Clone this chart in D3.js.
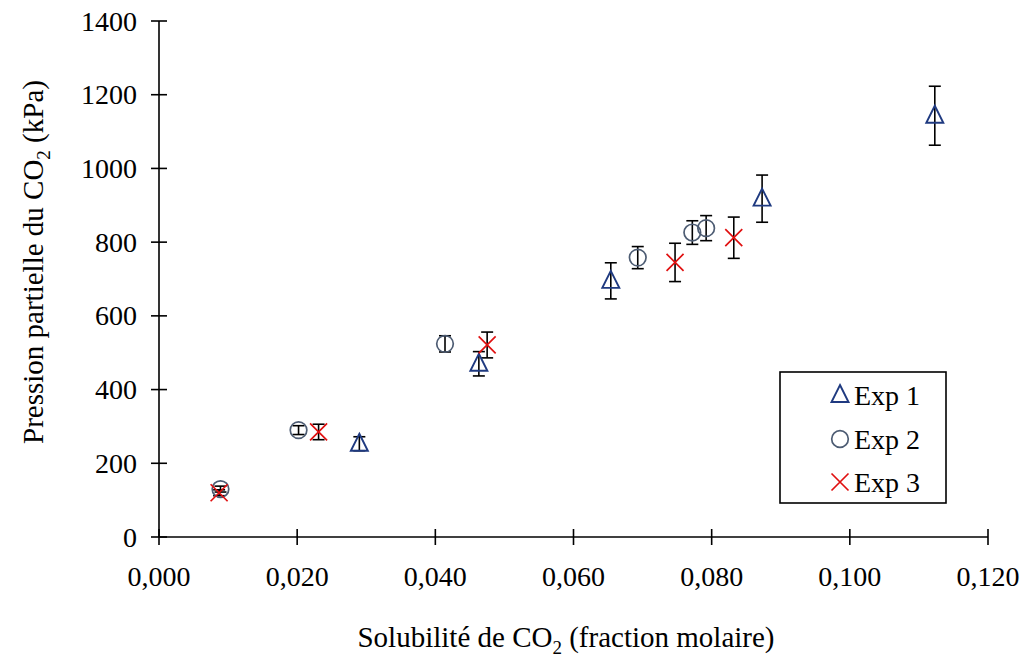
<!DOCTYPE html>
<html><head><meta charset="utf-8">
<script src="https://cdn.jsdelivr.net/npm/d3@7"></script>
<style>body{margin:0;background:#fff}svg{display:block}text{font-family:"Liberation Serif","Times New Roman",serif;fill:#000}</style>
</head><body><svg id="c" width="1024" height="657"></svg>
<script>
const xTicks = [0, 0.02, 0.04, 0.06, 0.08, 0.10, 0.12];
const xTickLabels = ["0,000","0,020","0,040","0,060","0,080","0,100","0,120"];
const yTicks = [0, 200, 400, 600, 800, 1000, 1200, 1400];
const yTickLabels = ["0","200","400","600","800","1000","1200","1400"];

const exp1X = [0.0290, 0.0463, 0.0654, 0.0873, 0.1123];
const exp1Y = [253, 470, 695, 918, 1143];
const exp1Err = [19, 33, 49, 64, 80];

const exp2X = [0.0089, 0.0202, 0.0414, 0.0693, 0.0772, 0.0792];
const exp2Y = [130, 290, 524, 758, 826, 838];
const exp2Err = [8, 12, 22, 30, 32, 34];

const exp3X = [0.0087, 0.0231, 0.0475, 0.0747, 0.0832];
const exp3Y = [120, 285, 521, 745, 812];
const exp3Err = [8, 21, 35, 52, 56];

const seriesNames = ["Exp 1", "Exp 2", "Exp 3"];

const svg = d3.select("#c");
const L = 159, R = 988, T = 21, B = 537;
const x = d3.scaleLinear().domain([0, 0.12]).range([L, R]);
const y = d3.scaleLinear().domain([0, 1400]).range([B, T]);
const FS = 28, TFS = 29;

// x axis
const gx = svg.append("g");
gx.append("line").attr("x1", L).attr("x2", R).attr("y1", B).attr("y2", B).attr("stroke", "#000").attr("stroke-width", 1.6);
gx.selectAll("line.t").data(xTicks).join("line").attr("class", "t")
  .attr("x1", d => x(d)).attr("x2", d => x(d)).attr("y1", B - 8).attr("y2", B + 8)
  .attr("stroke", "#000").attr("stroke-width", 1.6);
gx.selectAll("text").data(xTicks).join("text")
  .attr("x", d => x(d)).attr("y", B + 49).attr("text-anchor", "middle").attr("font-size", FS)
  .text((d, i) => xTickLabels[i]);

// y axis
const gy = svg.append("g");
gy.append("line").attr("x1", L).attr("x2", L).attr("y1", T).attr("y2", B).attr("stroke", "#000").attr("stroke-width", 1.6);
gy.selectAll("line.t").data(yTicks).join("line").attr("class", "t")
  .attr("x1", L - 8).attr("x2", L + 8).attr("y1", d => y(d)).attr("y2", d => y(d))
  .attr("stroke", "#000").attr("stroke-width", 1.6);
gy.selectAll("text").data(yTicks).join("text")
  .attr("x", L - 22).attr("y", d => y(d)).attr("dy", "0.34em").attr("text-anchor", "end").attr("font-size", FS)
  .text((d, i) => yTickLabels[i]);

// axis titles
const xt = svg.append("text").attr("x", 566).attr("y", 647).attr("text-anchor", "middle").attr("font-size", TFS);
xt.append("tspan").text("Solubilité de CO");
xt.append("tspan").attr("font-size", 19).attr("dy", 7).text("2");
xt.append("tspan").attr("dy", -7).text(" (fraction molaire)");

const yt = svg.append("text").attr("transform", "translate(43,262) rotate(-90)").attr("text-anchor", "middle").attr("font-size", TFS);
yt.append("tspan").text("Pression partielle du CO");
yt.append("tspan").attr("font-size", 19).attr("dy", 7).text("2");
yt.append("tspan").attr("dy", -7).text(" (kPa)");

const colors = ["#1f3a80", "#4d5c73", "#e01010"];

function errorBars(xs, ys, es) {
  const g = svg.append("g").attr("stroke", "#000").attr("stroke-width", 1.6);
  xs.forEach((xv, i) => {
    const cx = x(xv), y1 = y(ys[i] + es[i]), y2 = y(ys[i] - es[i]);
    g.append("line").attr("x1", cx).attr("x2", cx).attr("y1", y1).attr("y2", y2);
    g.append("line").attr("x1", cx - 6).attr("x2", cx + 6).attr("y1", y1).attr("y2", y1);
    g.append("line").attr("x1", cx - 6).attr("x2", cx + 6).attr("y1", y2).attr("y2", y2);
  });
}
function tri(g, cx, cy, c) {
  g.append("path").attr("d", `M${cx},${cy - 10}L${cx + 8.5},${cy + 7}L${cx - 8.5},${cy + 7}Z`)
    .attr("fill", "none").attr("stroke", c).attr("stroke-width", 1.9);
}
function circ(g, cx, cy, c) {
  g.append("circle").attr("cx", cx).attr("cy", cy).attr("r", 8.3)
    .attr("fill", "none").attr("stroke", c).attr("stroke-width", 1.7);
}
function star(g, cx, cy, c) {
  const s = 8.5;
  const d = `M${cx - s},${cy - s}L${cx + s},${cy + s}M${cx - s},${cy + s}L${cx + s},${cy - s}`;
  g.append("path").attr("d", d).attr("fill", "none").attr("stroke", c).attr("stroke-width", 1.7);
}

errorBars(exp1X, exp1Y, exp1Err);
errorBars(exp2X, exp2Y, exp2Err);
errorBars(exp3X, exp3Y, exp3Err);

const gm = svg.append("g");
exp1X.forEach((v, i) => tri(gm, x(v), y(exp1Y[i]), colors[0]));
exp2X.forEach((v, i) => circ(gm, x(v), y(exp2Y[i]), colors[1]));
exp3X.forEach((v, i) => star(gm, x(v), y(exp3Y[i]), colors[2]));

// legend
const lg = svg.append("g");
lg.append("rect").attr("x", 780).attr("y", 372).attr("width", 166).attr("height", 131)
  .attr("fill", "#fff").attr("stroke", "#000").attr("stroke-width", 1.6);
const ly = [395, 439, 482];
tri(lg, 840, ly[0], colors[0]);
circ(lg, 840, ly[1], colors[1]);
star(lg, 840, ly[2], colors[2]);
seriesNames.forEach((n, i) => {
  lg.append("text").attr("x", 854).attr("y", ly[i]).attr("dy", "0.34em").attr("font-size", FS).text(n);
});
</script></body></html>
